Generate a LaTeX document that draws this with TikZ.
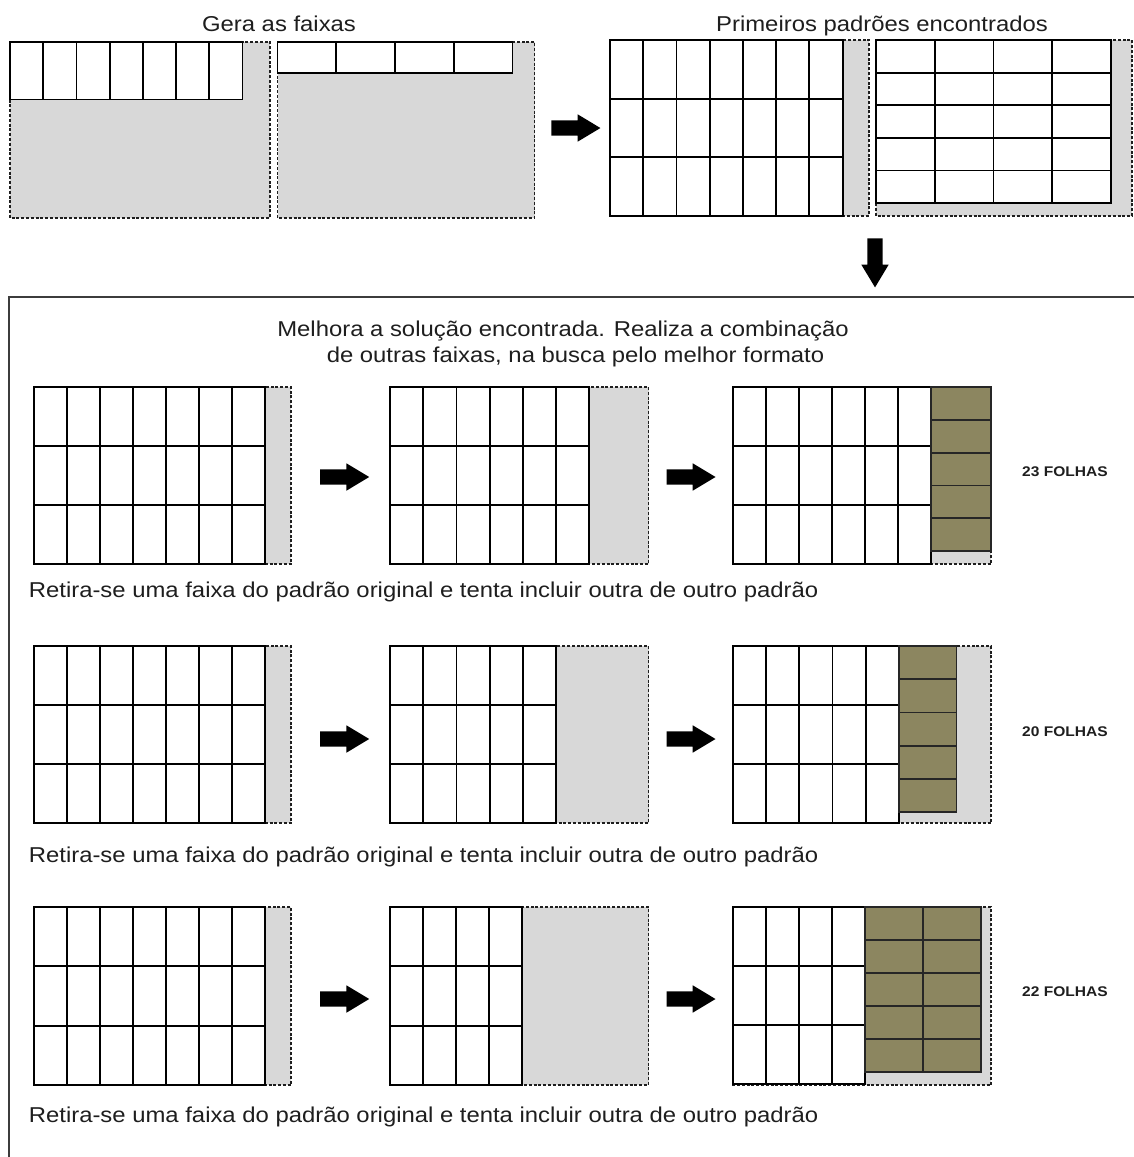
\documentclass[tikz,border=0pt]{standalone}
\usepackage{fontspec}
\setmainfont{Liberation Sans}[FakeStretch=1.11]
\usetikzlibrary{shapes.arrows}
\definecolor{sheetgray}{RGB}{216,216,216}
\definecolor{stripolive}{RGB}{140,134,96}
\definecolor{boxcol}{RGB}{60,60,60}
\definecolor{inkc}{RGB}{30,30,30}
\tikzset{
  sheet/.style={draw=inkc, fill=sheetgray, line width=1.4pt, dash pattern=on 3pt off 1.8pt},
  cellw/.style={draw=black, line width=1.8pt, fill=white},
  cello/.style={draw=black!85, line width=1.8pt, fill=stripolive},
  blockarrow/.style={single arrow, fill=black, draw=none, inner sep=0pt, outer sep=0pt,
     minimum height=49pt, single arrow head extend=6pt,
     single arrow tip angle=62},
  titletext/.style={font=\fontsize{21.5}{26}\selectfont, text=inkc, inner sep=0pt, anchor=base},
  captext/.style={font=\fontsize{21.5}{26}\selectfont, text=inkc, inner sep=0pt, anchor=base west},
  counttext/.style={font=\fontsize{14}{16}\selectfont\bfseries, text=inkc, inner sep=0pt, anchor=west},
  outerbox/.style={draw=boxcol, line width=2pt}
}
\newcommand{\shaft}{\rule{0pt}{15pt}}
\newcommand{\cellgrid}[7]{%
  \foreach \ci in {1,...,#3}{\foreach \cj in {1,...,#4}{%
    \path[#7] ({#1+(\ci-1)*#5},{#2+(\cj-1)*#6}) rectangle ++(#5,#6);}}}
\begin{document}
\begin{tikzpicture}[x=1pt,y=-1pt]
\useasboundingbox (0,0) rectangle (1133,1157);
\fill[white] (0,0) rectangle (1133,1157);

% ---------- top part ----------
\node[titletext] (t1) at (279,31) {Gera as faixas};
\node[titletext] (t2) at (882,31) {Primeiros padrões encontrados};

% sheet A
\path[sheet] (10,42) rectangle (270,218);
\cellgrid{10}{42}{7}{1}{33.2}{57.5}{cellw}
% sheet B
\path[sheet] (277.5,42) rectangle (534.6,218);
\cellgrid{277.5}{42}{4}{1}{58.75}{31}{cellw}

\node[blockarrow] (a0) at (569.5,128) {\shaft};

% sheet C
\path[sheet] (610,40) rectangle (869,216);
\cellgrid{610}{40}{7}{3}{33.23}{58.67}{cellw}
% sheet D
\path[sheet] (876,40) rectangle (1132,216);
\cellgrid{876}{40}{4}{5}{58.75}{32.6}{cellw}

\node[blockarrow, rotate=-90] (a1) at (875,256.5) {\shaft};

% ---------- big box ----------
\draw[outerbox] (9,1180) -- (9,297) -- (1150,297);

\node[titletext] (m1) at (563,336) {Melhora a solução encontrada. Realiza a combinação};
\node[titletext] (m2) at (575.5,362) {de outras faixas, na busca pelo melhor formato};

% ---------- row 1 ----------
\path[sheet] (33.7,387) rectangle (291,564);
\cellgrid{33.7}{387}{7}{3}{33.05}{59}{cellw}
\node[blockarrow] (r1a) at (338.3,477) {\shaft};
\path[sheet] (390,387) rectangle (648.6,564);
\cellgrid{390}{387}{6}{3}{33.2}{59}{cellw}
\node[blockarrow] (r1b) at (684.6,477) {\shaft};
\path[sheet] (732.6,387) rectangle (991,564);
\cellgrid{732.6}{387}{6}{3}{33}{59}{cellw}
\cellgrid{930.6}{387}{1}{5}{60.4}{32.8}{cello}
\node[counttext] (c1) at (1022,472) {23 FOLHAS};
\node[captext] (r1t) at (28.7,597.5) {Retira-se uma faixa do padrão original e tenta incluir outra de outro padrão};

% ---------- row 2 ----------
\path[sheet] (33.7,646) rectangle (291,823);
\cellgrid{33.7}{646}{7}{3}{33.05}{59}{cellw}
\node[blockarrow] (r2a) at (338.3,739) {\shaft};
\path[sheet] (390,646) rectangle (648.6,823);
\cellgrid{390}{646}{5}{3}{33.2}{59}{cellw}
\node[blockarrow] (r2b) at (684.6,739) {\shaft};
\path[sheet] (732.6,646) rectangle (991,823);
\cellgrid{732.6}{646}{5}{3}{33.28}{59}{cellw}
\cellgrid{899}{646}{1}{5}{57.5}{33.2}{cello}
\node[counttext] (c2) at (1022,732) {20 FOLHAS};
\node[captext] (r2t) at (28.7,862) {Retira-se uma faixa do padrão original e tenta incluir outra de outro padrão};

% ---------- row 3 ----------
\path[sheet] (33.7,907) rectangle (291,1085);
\cellgrid{33.7}{907}{7}{3}{33.05}{59.3}{cellw}
\node[blockarrow] (r3a) at (338.3,999) {\shaft};
\path[sheet] (390,907) rectangle (648.6,1085);
\cellgrid{390}{907}{4}{3}{33}{59.3}{cellw}
\node[blockarrow] (r3b) at (684.6,999) {\shaft};
\path[sheet] (732.6,907) rectangle (991,1085);
\cellgrid{732.6}{907}{4}{3}{33.1}{59}{cellw}
\cellgrid{865}{907}{2}{5}{58}{33}{cello}
\node[counttext] (c3) at (1022,992) {22 FOLHAS};
\node[captext] (r3t) at (28.7,1122.5) {Retira-se uma faixa do padrão original e tenta incluir outra de outro padrão};
\end{tikzpicture}
\end{document}
